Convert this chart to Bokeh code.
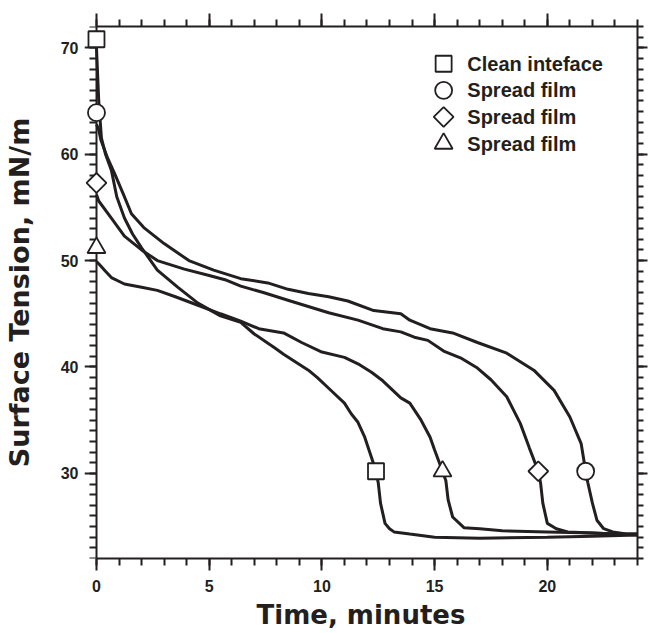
import math
from bokeh.plotting import figure
from bokeh.models import (LinearAxis, SingleIntervalTicker, Range1d, CustomJSTickFormatter)
from bokeh.core.properties import value
from bokeh.embed import file_html
from bokeh.resources import INLINE

# ---------------- data ----------------
clean_t = [0.0, 0.05, 0.1, 0.22, 0.4, 0.66, 0.9, 1.24, 1.6, 2.0, 2.7, 3.6, 4.5,
           5.5, 6.4, 7.0, 7.9, 8.3, 9.4, 9.8, 10.3, 10.5, 11.0, 11.3, 11.6, 11.9,
           12.2, 12.4, 12.5, 12.6, 12.8, 13.0, 13.2, 13.9, 15.0, 17.0, 20.0, 22.0, 24.0]
clean_st = [70.0, 67.5, 65.0, 61.5, 60.0, 58.5, 56.0, 54.0, 52.5, 51.2, 49.1, 47.5, 46.0,
            44.8, 44.2, 43.1, 41.8, 41.2, 39.7, 39.0, 38.0, 37.6, 36.6, 35.6, 34.8, 33.4,
            31.5, 30.2, 29.1, 27.2, 25.3, 24.8, 24.5, 24.3, 24.0, 23.9, 24.0, 24.1, 24.2]

circle_t = [0.0, 0.1, 0.2, 0.5, 0.8, 1.2, 1.55, 2.1, 3.0, 4.1, 5.2, 6.4, 7.6, 8.5,
            9.4, 10.3, 11.15, 12.3, 13.5, 13.9, 14.8, 15.8, 16.9, 18.2, 19.4, 20.3,
            21.0, 21.5, 21.7, 21.8, 22.0, 22.2, 22.5, 22.9, 23.5, 24.0]
circle_st = [62.8, 62.3, 61.3, 59.6, 58.2, 56.2, 54.4, 53.1, 51.6, 50.0, 49.1, 48.3, 47.9,
             47.3, 46.9, 46.6, 46.2, 45.3, 45.0, 44.4, 43.6, 43.2, 42.3, 41.3, 39.7, 37.8,
             35.3, 32.8, 30.2, 29.1, 27.2, 25.6, 24.8, 24.5, 24.3, 24.3]

diamond_t = [0.0, 0.1, 0.66, 1.24, 2.0, 2.7, 3.9, 5.0, 5.7, 6.4, 7.4, 8.6, 10.3, 11.6,
             12.7, 13.5, 14.1, 14.7, 15.4, 16.2, 16.9, 17.5, 18.2, 18.8, 19.2, 19.6,
             19.7, 19.8, 20.0, 20.4, 20.9, 22.0, 23.0, 24.0]
diamond_st = [56.2, 55.6, 54.0, 52.3, 51.0, 50.0, 49.2, 48.6, 48.2, 47.6, 47.0, 46.2, 45.1,
              44.4, 43.6, 43.3, 42.8, 42.5, 41.5, 40.8, 39.9, 38.8, 37.2, 34.7, 32.4,
              30.2, 29.1, 27.2, 25.3, 24.8, 24.5, 24.4, 24.3, 24.3]

triangle_t = [0.0, 0.1, 0.4, 0.66, 1.24, 2.0, 2.7, 3.5, 4.5, 5.5, 6.4, 7.2, 8.3, 9.1,
              10.0, 11.0, 11.6, 12.2, 12.7, 13.5, 13.9, 14.4, 14.8, 15.0, 15.35, 15.5,
              15.6, 15.8, 16.3, 17.0, 18.0, 20.0, 22.0, 24.0]
triangle_st = [49.9, 49.7, 49.0, 48.4, 47.8, 47.5, 47.2, 46.6, 45.8, 45.0, 44.3, 43.6, 43.2,
               42.3, 41.4, 40.9, 40.3, 39.5, 38.7, 37.1, 36.6, 35.0, 33.4, 32.2, 30.2,
               29.3, 27.5, 25.9, 24.9, 24.8, 24.6, 24.5, 24.4, 24.2]

# marker positions on each curve
clean_mark_t, clean_mark_st = [0.0, 12.4], [70.8, 30.2]
circle_mark_t, circle_mark_st = [0.0, 21.7], [63.9, 30.2]
diamond_mark_t, diamond_mark_st = [0.0, 19.6], [57.3, 30.2]
triangle_mark_t, triangle_mark_st = [0.0, 15.35], [51.2, 30.2]

legend_labels = ["Clean  inteface", "Spread film", "Spread film", "Spread film"]

x_title = "Time, minutes"
y_title = "Surface Tension, mN/m"

# ---------------- layout constants ----------------
INK = "#231f20"
TICK_FONT = "Liberation Sans"
TITLE_FONT = "DejaVu Sans"
X_MAX, Y_MIN, Y_MAX = 24, 22, 72
X_PAD = -0.5314           # room left of t=0 so axis ticks and markers on t=0 are not cut
LEG_X_MARK, LEG_X_TEXT, LEG_Y0, LEG_DY = 15.4, 16.45, 68.5, 2.5

p = figure(width=648, height=633, x_range=Range1d(X_PAD, X_MAX),
           y_range=Range1d(Y_MIN, Y_MAX),
           output_backend="svg", toolbar_location=None,
           min_border_left=83, min_border_right=11, min_border_top=26,
           min_border_bottom=75)
p.grid.visible = False
p.outline_line_color = None
p.background_fill_color = "white"
p.border_fill_color = "white"


def style_axis(ax, out_major, out_minor):
    ax.axis_line_width = 2
    ax.axis_line_color = INK
    ax.major_tick_line_width = 2
    ax.minor_tick_line_width = 2
    ax.major_tick_line_color = INK
    ax.minor_tick_line_color = INK
    ax.major_tick_in = 0
    ax.minor_tick_in = 0
    ax.major_tick_out = out_major
    ax.minor_tick_out = out_minor


blank = CustomJSTickFormatter(code="return ''")

# bottom axis
xb = p.xaxis[0]
xb.ticker = SingleIntervalTicker(interval=5, num_minor_ticks=5)
xb.bounds = (0, X_MAX)
style_axis(xb, 12, 7)
xb.major_label_text_font = TICK_FONT
xb.major_label_text_font_style = "bold"
xb.major_label_text_font_size = "16px"
xb.major_label_text_color = INK
xb.major_label_standoff = 9
xb.axis_label = x_title
xb.axis_label_text_font = TITLE_FONT
xb.axis_label_text_font_style = "bold"
xb.axis_label_text_font_size = "26px"
xb.axis_label_text_color = INK
xb.axis_label_standoff = 5

# left axis in the border: only tick labels and title
yl = p.yaxis[0]
yl.ticker = SingleIntervalTicker(interval=10, num_minor_ticks=10)
yl.axis_line_color = None
yl.major_tick_line_color = None
yl.minor_tick_line_color = None
yl.major_tick_out = 0
yl.minor_tick_out = 0
yl.major_tick_in = 0
yl.minor_tick_in = 0
yl.major_label_text_font = TICK_FONT
yl.major_label_text_font_style = "bold"
yl.major_label_text_font_size = "16px"
yl.major_label_text_color = INK
yl.major_label_standoff = 6
yl.axis_label = y_title
yl.axis_label_text_font = TITLE_FONT
yl.axis_label_text_font_style = "bold"
yl.axis_label_text_font_size = "27px"
yl.axis_label_text_color = INK
yl.axis_label_standoff = 23

# left axis line and ticks at t = 0
y0 = LinearAxis(ticker=SingleIntervalTicker(interval=10, num_minor_ticks=10),
                formatter=blank, fixed_location=0, major_label_standoff=0,
                major_label_text_font_size="1px")
style_axis(y0, 12, 7)
p.add_layout(y0, "left")

# top and right mirror axes
xt = LinearAxis(ticker=SingleIntervalTicker(interval=5, num_minor_ticks=5),
                formatter=blank, major_label_standoff=0, bounds=(0, X_MAX),
                major_label_text_font_size="1px")
style_axis(xt, 13, 7)
p.add_layout(xt, "above")
yr = LinearAxis(ticker=SingleIntervalTicker(interval=10, num_minor_ticks=10),
                formatter=blank, major_label_standoff=0,
                major_label_text_font_size="1px")
style_axis(yr, 10, 6)
p.add_layout(yr, "right")

# ---------------- curves ----------------
for t, s in [(clean_t, clean_st), (circle_t, circle_st),
             (diamond_t, diamond_st), (triangle_t, triangle_st)]:
    p.line(t, s, line_width=3, line_color=INK)

mk = dict(fill_color="white", line_color=INK, line_width=1.8, level="overlay")
p.scatter(clean_mark_t, clean_mark_st, marker="square", size=16, **mk)
p.scatter(circle_mark_t, circle_mark_st, marker="circle", size=17, **mk)
p.scatter(diamond_mark_t, diamond_mark_st, marker="square", size=14,
          angle=math.pi / 4, **mk)
p.scatter(triangle_mark_t, triangle_mark_st, marker="triangle", size=18, **mk)

# ---------------- legend (drawn by hand so the symbols keep full size) -------
leg_y = [LEG_Y0 - i * LEG_DY for i in range(len(legend_labels))]
p.scatter([LEG_X_MARK], [leg_y[0]], marker="square", size=16, **mk)
p.scatter([LEG_X_MARK], [leg_y[1]], marker="circle", size=17, **mk)
p.scatter([LEG_X_MARK], [leg_y[2]], marker="square", size=14, angle=math.pi / 4, **mk)
p.scatter([LEG_X_MARK], [leg_y[3]], marker="triangle", size=18, **mk)
p.text([LEG_X_TEXT] * len(legend_labels), leg_y, text=legend_labels,
       text_baseline="middle", text_align="left", text_color=INK,
       text_font=value(TICK_FONT), text_font_style="bold", text_font_size="20px",
       level="overlay")

open("out.html", "w").write(file_html(p, INLINE))
